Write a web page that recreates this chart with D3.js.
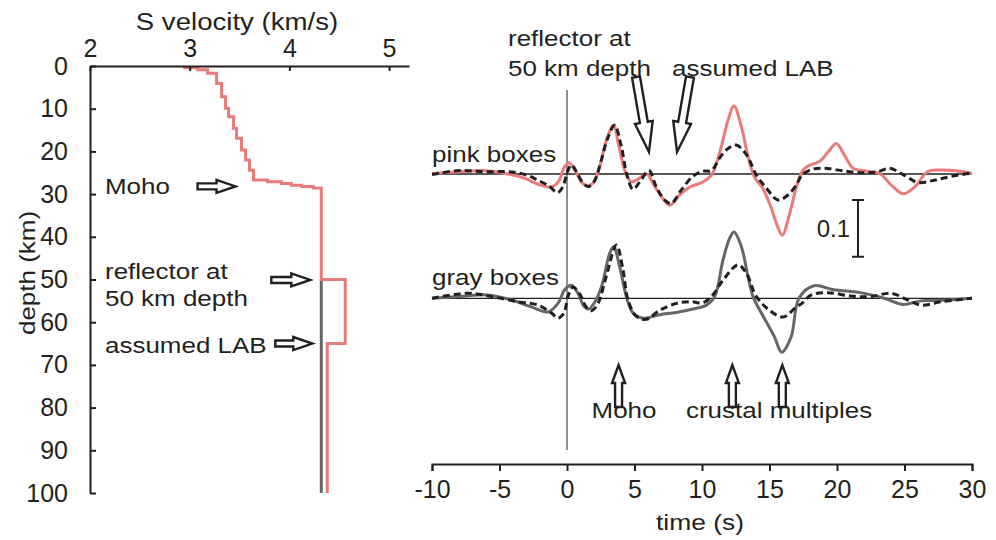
<!DOCTYPE html>
<html>
<head>
<meta charset="utf-8">
<script src="https://cdn.jsdelivr.net/npm/d3@7"></script>
<style>
  body { margin: 0; background: #fff; }
  svg { font-family: "Liberation Sans", Arial, sans-serif; }
  text { fill: #231f20; }
</style>
</head>
<body>
<div id="chart"></div>
<script>
// ---- velocity model (left panel) ----
var layerTop   = [0, 0.4, 0.9, 1.7, 4.1, 7.2, 9.9, 11.9, 14.6, 16.9, 19.7, 22.0, 24.4, 26.7, 27.1, 27.5, 27.9, 28.2, 28.6, 50, 65];
var pinkVs     = [2.95, 3.08, 3.18, 3.27, 3.32, 3.36, 3.39, 3.44, 3.47, 3.52, 3.56, 3.60, 3.64, 3.78, 3.92, 4.02, 4.12, 4.24, 4.32, 4.56, 4.38];
var grayTop    = [50];
var grayVs     = [4.32];
var maxDepth   = 100;
var velTicks   = [2, 3, 4, 5];
var depthTicks = [0, 10, 20, 30, 40, 50, 60, 70, 80, 90, 100];

// ---- receiver functions (right panel) ----
var pinkT  = [-10, -8, -6.2, -4.4, -3.1, -2.15, -1.15, -0.65, -0.17, 0.15, 0.57, 1.07, 1.5, 1.93, 2.42, 2.92, 3.45, 3.8, 4.27, 4.77, 5.26, 5.9, 6.5, 7.1, 7.6, 8.35, 9.1, 10.07, 10.7, 11.3, 11.93, 12.37, 12.92, 13.41, 13.9, 14.5, 15.1, 15.6, 15.95, 16.5, 17.0, 17.4, 17.85, 18.7, 19.35, 19.95, 20.6, 21.2, 22.2, 23.2, 24.0, 24.9, 25.75, 26.7, 27.5, 28.7, 30];
var pinkA  = [0.001, 0.004, 0.006, 0, -0.008, -0.018, -0.023, -0.014, 0.013, 0.020, 0.007, -0.014, -0.021, -0.016, 0.013, 0.060, 0.086, 0.054, 0.007, -0.014, -0.009, 0.000, -0.022, -0.043, -0.055, -0.037, -0.023, -0.014, -0.002, 0.037, 0.095, 0.120, 0.083, 0.031, -0.006, -0.025, -0.058, -0.093, -0.108, -0.069, -0.022, 0.004, 0.014, 0.022, 0.039, 0.054, 0.031, 0.010, 0.005, 0, -0.019, -0.035, -0.023, 0.004, 0.007, 0.006, 0.001];
var pinkDashT = [-10, -8, -6.2, -4.4, -3.1, -2.15, -1.3, -0.7, -0.3, 0.03, 0.33, 0.7, 1.19, 1.6, 2.0, 2.55, 3.0, 3.53, 4.03, 4.44, 4.89, 5.39, 6.07, 6.6, 7.24, 7.73, 8.47, 9.33, 10.07, 10.7, 11.3, 11.93, 12.54, 13.29, 14.03, 14.77, 15.63, 16.37, 17.0, 17.4, 18.1, 19.1, 20.6, 22.05, 23.0, 23.9, 24.9, 26.0, 27.2, 28.5, 30];
var pinkDashA = [-0.001, 0.006, 0.004, 0.004, -0.001, -0.011, -0.022, -0.033, -0.022, 0.004, 0.016, 0.004, -0.016, -0.022, -0.014, 0.025, 0.062, 0.086, 0.048, -0.002, -0.027, -0.014, 0.006, -0.022, -0.046, -0.052, -0.028, -0.004, 0.005, 0.006, 0.028, 0.045, 0.051, 0.034, -0.002, -0.025, -0.046, -0.037, -0.019, -0.002, 0.008, 0.010, 0.005, 0.002, 0.004, 0.010, -0.001, -0.015, -0.011, -0.004, 0.002];
var grayT  = [-10, -8, -5.9, -4.1, -2.65, -1.4, -0.67, -0.17, 0.33, 0.81, 1.26, 1.6, 2.0, 2.55, 3.16, 3.45, 3.9, 4.4, 4.89, 5.63, 6.87, 8.1, 9.33, 10.33, 10.94, 11.56, 12.05, 12.37, 12.92, 13.41, 13.78, 14.4, 15.37, 15.9, 16.6, 17.2, 18.3, 19.75, 21.75, 23.5, 24.9, 26.1, 28.3, 30];
var grayA  = [0, 0.003, 0.006, -0.003, -0.015, -0.024, -0.009, 0.015, 0.023, 0.009, -0.014, -0.019, -0.009, 0.020, 0.079, 0.091, 0.056, 0.003, -0.026, -0.035, -0.029, -0.025, -0.019, -0.012, 0.003, 0.068, 0.106, 0.117, 0.091, 0.038, 0.003, -0.026, -0.068, -0.095, -0.068, 0.001, 0.022, 0.015, 0.010, 0, -0.011, -0.005, -0.003, 0];
var grayDashT = [-10, -7.3, -5.6, -3.65, -2.15, -1.15, -0.67, -0.23, 0.07, 0.44, 0.96, 1.41, 1.8, 2.3, 2.9, 3.66, 4.15, 4.52, 5.14, 5.88, 6.87, 8.1, 9.2, 10.07, 10.8, 11.56, 12.67, 13.29, 14.03, 15.0, 16.0, 17.0, 17.4, 18.1, 19.3, 21.05, 22.5, 24.0, 25.25, 26.25, 27.75, 30];
var grayDashA = [0, 0.009, 0.003, -0.006, -0.012, -0.026, -0.035, -0.026, 0.003, 0.020, 0.007, -0.015, -0.022, -0.009, 0.038, 0.094, 0.050, -0.003, -0.032, -0.037, -0.021, -0.009, -0.006, -0.008, 0.006, 0.032, 0.059, 0.044, 0.003, -0.021, -0.033, -0.015, -0.009, 0.006, 0.010, 0.004, 0.003, 0.009, -0.003, -0.012, -0.006, 0];
var timeTicks = [-10, -5, 0, 5, 10, 15, 20, 25, 30];

var PINK = "#ea7b7b", GRAY = "#666666", INK = "#231f20";

var svg = d3.select("#chart").append("svg")
    .attr("width", 996)
    .attr("height", 540);

// widen text a bit, the original lettering is stretched sideways
function stretch(sel, k) {
    sel.each(function () {
        var w = this.getComputedTextLength();
        d3.select(this).attr("textLength", w * k).attr("lengthAdjust", "spacingAndGlyphs");
    });
}

// hollow block arrow, tip at (0,0) pointing along +x
function arrowPath(len, sw, hw, hl) {
    return "M" + (-len) + "," + (-sw / 2) + "H" + (-hl) + "V" + (-hw / 2) +
        "L0,0L" + (-hl) + "," + (hw / 2) + "V" + (sw / 2) + "H" + (-len) + "Z";
}
function drawArrow(x, y, angle, len, sw, hw, hl) {
    svg.append("path")
        .attr("d", arrowPath(len, sw, hw, hl))
        .attr("transform", "translate(" + x + "," + y + ") rotate(" + angle + ")")
        .style("fill", "#fff")
        .style("stroke", INK)
        .style("stroke-width", 2.4);
}

function styleAxis(g) {
    g.select(".domain").style("stroke", INK).style("stroke-width", 2);
    g.selectAll(".tick line").style("stroke", INK).style("stroke-width", 2);
    g.selectAll(".tick text").style("font-size", "25px").style("fill", INK)
        .attr("font-family", "Liberation Sans, Arial, sans-serif");
}
var plain = function (d) { return String(d); };  // keep ASCII hyphen for negatives

// ================= left panel =================
var xV = d3.scaleLinear().domain([2, 5.2]).range([90, 409]);
var yD = d3.scaleLinear().domain([0, 100]).range([66, 493]);

function stepPoints(tops, vs) {
    var pts = [];
    for (var i = 0; i < tops.length; i++) {
        var bottom = i < tops.length - 1 ? tops[i + 1] : maxDepth;
        pts.push([vs[i], tops[i]]);
        pts.push([vs[i], bottom]);
    }
    return pts;
}
var profLine = d3.line()
    .x(function (d) { return xV(d[0]); })
    .y(function (d) { return yD(d[1]); });

svg.append("path")
    .attr("d", profLine(stepPoints(grayTop, grayVs)))
    .style("fill", "none").style("stroke", GRAY).style("stroke-width", 3);
svg.append("path")
    .attr("d", profLine(stepPoints(layerTop, pinkVs)))
    .style("fill", "none").style("stroke", PINK).style("stroke-width", 3);

svg.append("g")
    .attr("transform", "translate(0,66)")
    .call(d3.axisTop(xV).tickValues(velTicks).tickFormat(plain)
        .tickSizeInner(-5).tickSizeOuter(0).tickPadding(9))
    .call(styleAxis);
svg.append("g")
    .attr("transform", "translate(90,0)")
    .call(d3.axisLeft(yD).tickValues(depthTicks).tickFormat(plain)
        .tickSizeInner(-6).tickSizeOuter(0).tickPadding(22))
    .call(styleAxis);

svg.append("text")
    .attr("x", 237).attr("y", 30)
    .attr("text-anchor", "middle")
    .style("font-size", "23px")
    .text("S velocity (km/s)")
    .call(stretch, 1.2);

svg.append("text")
    .attr("transform", "translate(35,273) rotate(-90)")
    .attr("text-anchor", "middle")
    .style("font-size", "22px")
    .text("depth (km)")
    .call(stretch, 1.18);

var leftNotes = [
    { text: "Moho", x: 105, y: 194 },
    { text: "reflector at", x: 105, y: 279 },
    { text: "50 km depth", x: 105, y: 306 },
    { text: "assumed LAB", x: 105, y: 353 }
];
leftNotes.forEach(function (n) {
    svg.append("text").attr("x", n.x).attr("y", n.y)
        .style("font-size", "22px").text(n.text).call(stretch, 1.18);
});

drawArrow(xV(3.46), yD(28.2), 0, 38, 6, 13, 19);
drawArrow(xV(4.21), yD(50.1), 0, 39, 6, 13, 19);
drawArrow(xV(4.23), yD(65), 0, 37, 6, 13, 19);

// ================= right panel =================
var xT = d3.scaleLinear().domain([-10, 30]).range([432, 972]);
var amp = d3.scaleLinear().domain([0, 0.1]).range([0, -56.7]);
var pinkBase = 174, grayBase = 298.3;

var rfLine = d3.line()
    .x(function (d) { return xT(d[0]); })
    .y(function (d) { return amp(d[1]); })
    .curve(d3.curveCatmullRom.alpha(0.5));

function drawTrace(base, ts, as, color, dashed) {
    var pts = ts.map(function (t, i) { return [t, as[i]]; });
    var p = svg.append("path")
        .attr("transform", "translate(0," + base + ")")
        .attr("d", rfLine(pts))
        .style("fill", "none")
        .style("stroke", color)
        .style("stroke-width", 3);
    if (dashed) p.style("stroke-dasharray", "7,4");
}

// zero-time line and baselines
svg.append("line")
    .attr("x1", xT(0)).attr("x2", xT(0))
    .attr("y1", 90).attr("y2", 450)
    .style("stroke", INK).style("stroke-width", 1);
[pinkBase, grayBase].forEach(function (b) {
    svg.append("line")
        .attr("x1", xT(-10)).attr("x2", xT(30))
        .attr("y1", b).attr("y2", b)
        .style("stroke", INK).style("stroke-width", 1.3);
});

drawTrace(pinkBase, pinkT, pinkA, PINK, false);
drawTrace(pinkBase, pinkDashT, pinkDashA, INK, true);
drawTrace(grayBase, grayT, grayA, GRAY, false);
drawTrace(grayBase, grayDashT, grayDashA, INK, true);

svg.append("g")
    .attr("transform", "translate(0,464)")
    .call(d3.axisBottom(xT).tickValues(timeTicks).tickFormat(plain)
        .tickSizeInner(7).tickSizeOuter(7).tickPadding(9))
    .call(styleAxis);

svg.append("text")
    .attr("x", 700).attr("y", 530)
    .attr("text-anchor", "middle")
    .style("font-size", "22px")
    .text("time (s)")
    .call(stretch, 1.2);

// scale bar 0.1
var barX = 858, barTop = 200;
var barBot = barTop - amp(0.1);
svg.append("path")
    .attr("d", "M" + (barX - 6) + "," + barTop + "H" + (barX + 6) +
        "M" + barX + "," + barTop + "V" + barBot +
        "M" + (barX - 6) + "," + barBot + "H" + (barX + 6))
    .style("fill", "none").style("stroke", INK).style("stroke-width", 2);
svg.append("text")
    .attr("x", 850).attr("y", 237)
    .attr("text-anchor", "end")
    .style("font-size", "24px")
    .text("0.1");

var rightNotes = [
    { text: "pink boxes", x: 432, y: 162, anchor: "start" },
    { text: "gray boxes", x: 432, y: 285, anchor: "start" },
    { text: "reflector at", x: 508, y: 46, anchor: "start" },
    { text: "50 km depth", x: 508, y: 76, anchor: "start" },
    { text: "assumed LAB", x: 672, y: 76, anchor: "start" },
    { text: "Moho", x: 624, y: 418, anchor: "middle" },
    { text: "crustal multiples", x: 686, y: 418, anchor: "start" }
];
rightNotes.forEach(function (n) {
    svg.append("text").attr("x", n.x).attr("y", n.y)
        .attr("text-anchor", n.anchor)
        .style("font-size", "22px").text(n.text).call(stretch, 1.18);
});

// arrows pointing at the reflector and LAB arrivals
drawArrow(xT(6.07), 152, 80.2, 76, 8, 18, 30);
drawArrow(xT(8.15), 152, 99.8, 76, 8, 18, 30);
// arrows under Moho and crustal multiples
drawArrow(xT(3.82), 365, -90, 42, 7, 13, 18);
drawArrow(xT(12.25), 365, -90, 42, 7, 13, 18);
drawArrow(xT(15.95), 365, -90, 42, 7, 13, 18);
</script>
</body>
</html>
